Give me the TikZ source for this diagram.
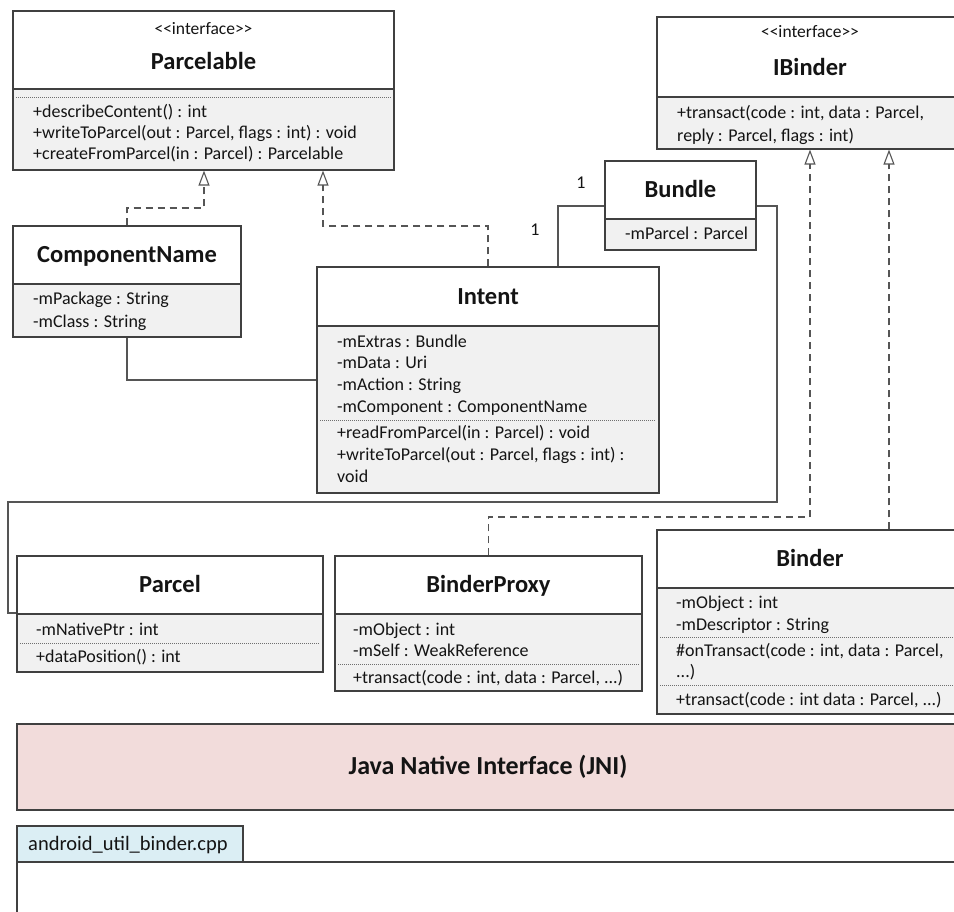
\documentclass[tikz,border=0pt]{standalone}
\usepackage{fontspec}
\setmainfont{Carlito}
\usetikzlibrary{arrows.meta}
\definecolor{boxc}{HTML}{404040}
\definecolor{lnc}{HTML}{555555}
\definecolor{compfill}{HTML}{F1F1F1}
\definecolor{sepc}{HTML}{6F6F6F}
\definecolor{textc}{HTML}{141414}
\definecolor{jnifill}{HTML}{F2DCDB}
\definecolor{tabfill}{HTML}{DBEEF4}

% class box: name, left, right, top, header bottom, bottom, header text
\newcommand{\umlbox}[7]{%
  \node[hdr, minimum width={#3-#2}, minimum height={#5-#4}] (#1) at ({(#2+#3)/2},{(#4+#5)/2}) {#7};
  \node[cmp, minimum width={#3-#2}, minimum height={#6-#5}] (#1B) at ({(#2+#3)/2},{(#5+#6)/2}) {};
}

\begin{document}
\begin{tikzpicture}[x=1pt,y=-1pt,
  hdr/.style={draw=boxc, fill=white, line width=1.2pt, inner sep=0pt,
    font=\bfseries\fontsize{24.5}{28}\selectfont, text=textc, text height=17pt, text depth=1.6pt},
  title/.style={inner sep=0pt, font=\bfseries\fontsize{24.5}{28}\selectfont, text=textc,
    text height=17pt, text depth=1.6pt},
  cmp/.style={draw=boxc, fill=compfill, line width=1.2pt, inner sep=0pt},
  attr/.style={anchor=west, inner sep=0pt, font=\fontsize{18}{21}\selectfont, text=textc,
    text height=12.5pt, text depth=1.3pt},
  stereo/.style={inner sep=0pt, font=\fontsize{17.5}{20}\selectfont, text=textc,
    text height=11pt, text depth=1pt},
  sep/.style={draw=sepc, line width=0.8pt, dash pattern=on 1pt off 1pt},
  assoc/.style={draw=lnc, line width=1.2pt},
  real/.style={draw=lnc, line width=1.2pt, dash pattern=on 7pt off 5pt,
    -{Triangle[open, length=15pt, width=11pt, line width=1.1pt]}},
  mult/.style={inner sep=0pt, font=\fontsize{18}{21}\selectfont, text=textc}
]
\clip (0,0) rectangle (954,912);
\fill[white] (0,0) rectangle (954,912);

% ---------- Parcelable ----------
\umlbox{parcelable}{13}{394}{11}{89}{170}{}
\node[stereo] (parcelable-st) at (203.5,30) {<\kern0pt<interface>\kern0pt>};
\node[title] (parcelable-nm) at (203.5,62) {Parcelable};
\draw[sep] (16,97) -- (391,97);
\node[attr] (parcelable-o1) at (33,112) {+describeContent() : int};
\node[attr] (parcelable-o2) at (33,133) {+writeToParcel(out : Parcel, flags : int) : void};
\node[attr] (parcelable-o3) at (33,154) {+createFromParcel(in : Parcel) : Parcelable};

% ---------- IBinder ----------
\umlbox{ibinder}{657}{963}{17}{97}{149}{}
\node[stereo] (ibinder-st) at (810,33) {<\kern0pt<interface>\kern0pt>};
\node[title] (ibinder-nm) at (810,68) {IBinder};
\node[attr] (ibinder-o1) at (677,113) {+transact(code : int, data : Parcel,};
\node[attr] (ibinder-o2) at (677,136) {reply : Parcel, flags : int)};

% ---------- ComponentName ----------
\umlbox{cname}{13}{241}{226}{284}{337}{ComponentName}
\node[attr] (cname-a1) at (33,299) {-mPackage : String};
\node[attr] (cname-a2) at (33,322) {-mClass : String};

% ---------- Bundle ----------
\umlbox{bundle}{605}{756}{161}{219}{250}{Bundle}
\node[attr] (bundle-a1) at (625,234) {-mParcel : Parcel};

% ---------- Intent ----------
\umlbox{intent}{317}{659}{267}{326}{493}{Intent}
\node[attr] (intent-a1) at (337,342) {-mExtras : Bundle};
\node[attr] (intent-a2) at (337,363) {-mData : Uri};
\node[attr] (intent-a3) at (337,385) {-mAction : String};
\node[attr] (intent-a4) at (337,407) {-mComponent : ComponentName};
\draw[sep] (320,420) -- (656,420);
\node[attr] (intent-o1) at (337,433) {+readFromParcel(in : Parcel) : void};
\node[attr] (intent-o2) at (337,455) {+writeToParcel(out : Parcel, flags : int) :};
\node[attr] (intent-o3) at (337,477) {void};

% ---------- Parcel ----------
\umlbox{parcel}{17}{323}{556}{614}{672}{Parcel}
\node[attr] (parcel-a1) at (36,630) {-mNativePtr : int};
\draw[sep] (20,643) -- (320,643);
\node[attr] (parcel-o1) at (36,657) {+dataPosition() : int};

% ---------- BinderProxy ----------
\umlbox{proxy}{335}{642}{556}{614}{691}{BinderProxy}
\node[attr] (proxy-a1) at (353,630) {-mObject : int};
\node[attr] (proxy-a2) at (353,651) {-mSelf : WeakReference};
\draw[sep] (338,664) -- (639,664);
\node[attr] (proxy-o1) at (353,678) {+transact(code : int, data : Parcel, ...)};

% ---------- Binder ----------
\umlbox{binder}{657}{963}{530}{588}{714}{Binder}
\node[attr] (binder-a1) at (676,603) {-mObject : int};
\node[attr] (binder-a2) at (676,624.5) {-mDescriptor : String};
\draw[sep] (660,637) -- (960,637);
\node[attr] (binder-o1) at (676,651) {\#onTransact(code : int, data : Parcel,};
\node[attr] (binder-o2) at (676,672) {...)};
\draw[sep] (660,685) -- (960,685);
\node[attr] (binder-o3) at (676,700) {+transact(code : int data : Parcel, ...)};

% ---------- JNI layer and native file ----------
\node[draw=boxc, fill=jnifill, line width=1.2pt, minimum width=942, minimum height=86,
  inner sep=0pt, font=\bfseries\fontsize{26}{30}\selectfont, text=textc] (jni) at (488,767)
  {Java Native Interface (JNI)};
\node[draw=boxc, fill=white, line width=1.2pt, minimum width=942, minimum height=68,
  inner sep=0pt] (cpp) at (488,896) {};
\node[draw=boxc, fill=tabfill, line width=1.2pt, minimum width=226, minimum height=36,
  inner sep=0pt] (tab) at (130,844) {};
\node[attr, font=\fontsize{20.5}{24}\selectfont] (tab-t) at (28,845) {android\_util\_binder.cpp};

% ---------- waypoints ----------
\coordinate (w1) at (777,206);
\coordinate (w2) at (777,502);
\coordinate (w3) at (8,502);
\coordinate (w4) at (8,613);
\coordinate (w5) at (558,206);
\coordinate (w6) at (128,380);
\coordinate (w7) at (204,208);
\coordinate (w8) at (323,226);
\coordinate (w9) at (810,517);
\coordinate (w10) at (889,530);

% ---------- realizations ----------
\draw[real] (cname.north) -- (cname.north |- w7) -- (w7) -- (w7 |- parcelableB.south);
\draw[real] (intent.north) -- (intent.north |- w8) -- (w8) -- (w8 |- parcelableB.south);
\draw[real] (proxy.north) -- (proxy.north |- w9) -- (w9) -- (w9 |- ibinderB.south);
\draw[real] (w10 |- binder.north) -- (w10 |- ibinderB.south);

% ---------- associations ----------
\draw[assoc] (cnameB.south) -- (cnameB.south |- w6) -- (w6 -| intentB.west);
\draw[assoc] (w5 |- intent.north) -- (w5) -- (w5 -| bundle.west);
\draw[assoc] (w1 -| bundle.east) -- (w1) -- (w2) -- (w3) -- (w4) -- (w4 -| parcel.west);
\node[mult] (one-a) at (581,183) {1};
\node[mult] (one-b) at (535,230) {1};
\end{tikzpicture}
\end{document}
